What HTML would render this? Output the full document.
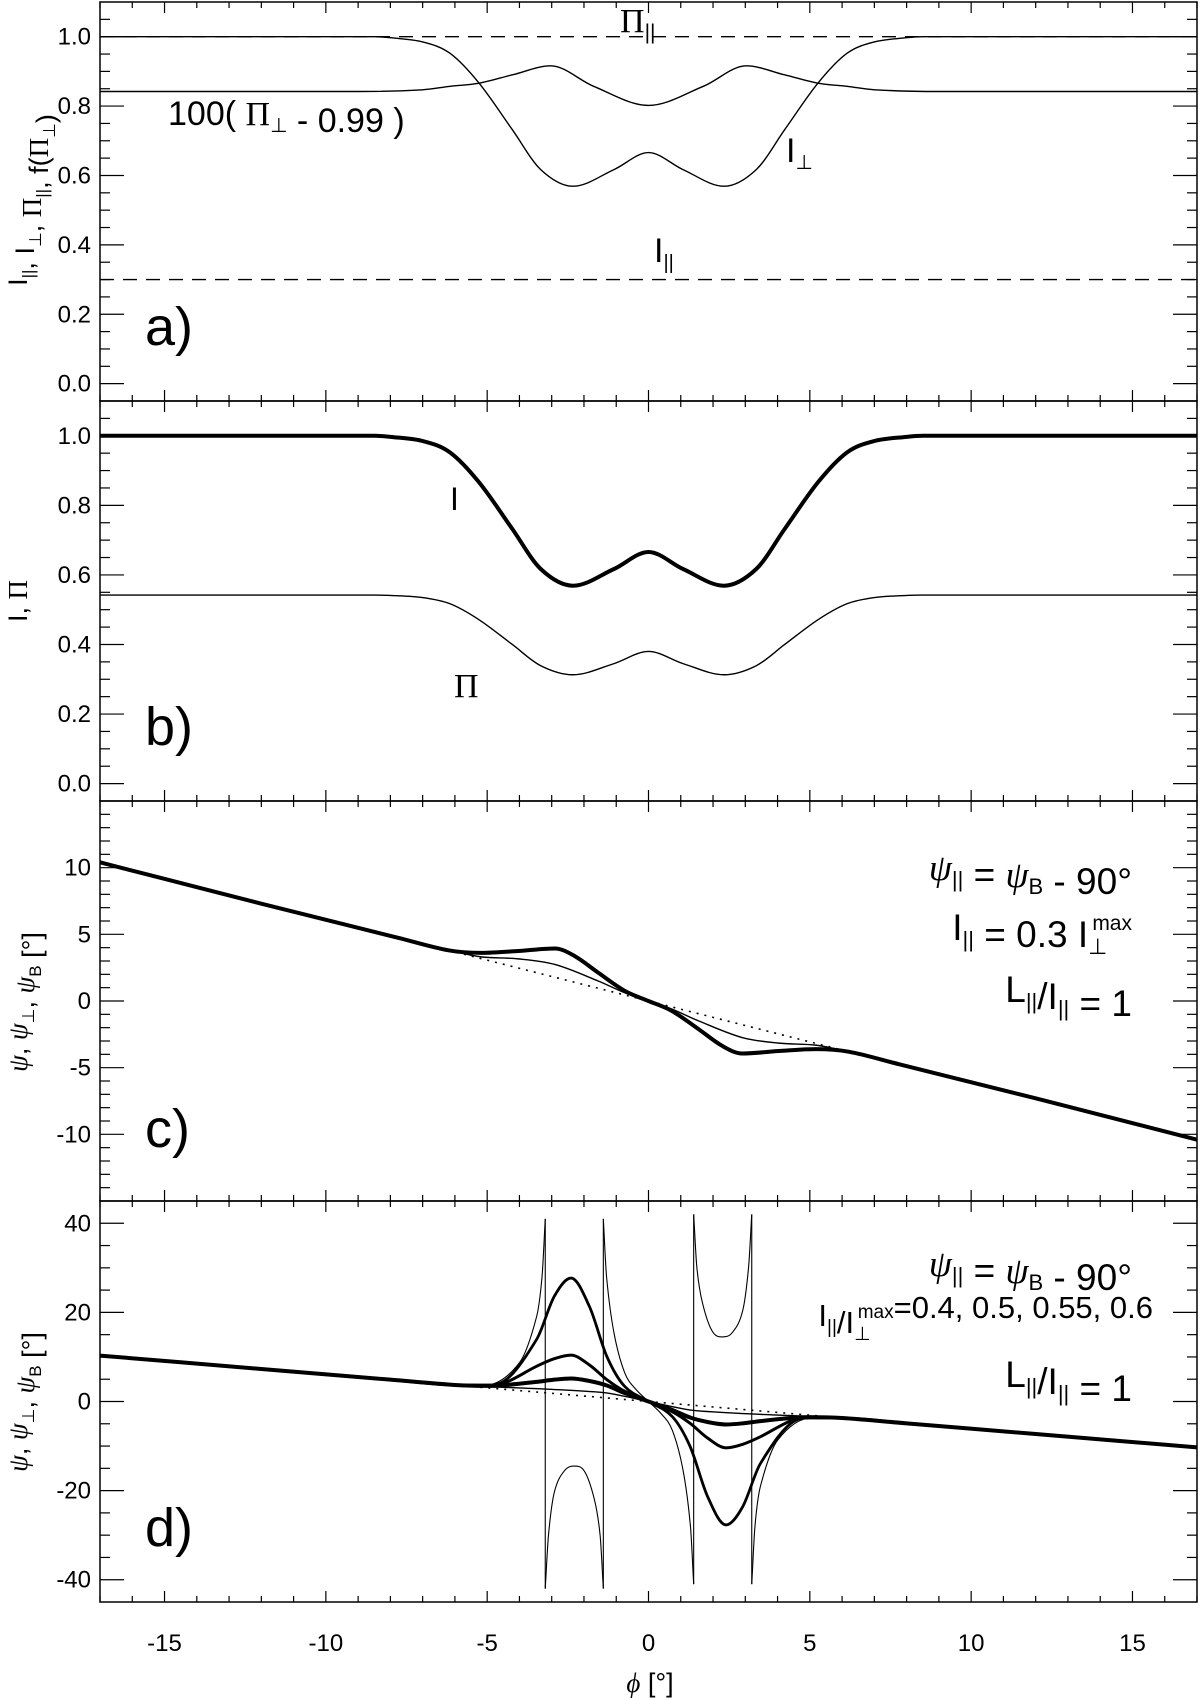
<!DOCTYPE html>
<html><head><meta charset="utf-8"><style>
html,body{margin:0;padding:0;background:#fff}
svg{display:block}
text{font-family:"Liberation Sans",sans-serif;fill:#000}
.serif{font-family:"Liberation Serif",serif}
</style></head><body>
<svg id="fig" width="1200" height="1699" viewBox="0 0 1200 1699" xmlns="http://www.w3.org/2000/svg"></svg>
<script>
// ---- data ----
const xTicks = [-15,-10,-5,0,5,10,15];
const aTicks = [1.0,0.8,0.6,0.4,0.2,0.0];
const bTicks = [1.0,0.8,0.6,0.4,0.2,0.0];
const cTicks = [10,5,0,-5,-10];
const dTicks = [40,20,0,-20,-40];

const phiA = [-17,-10,-8.5,-8,-7,-6.15,-5.25,-4.22,-3.34,-2.34,-1.07,0,1.07,2.34,3.34,4.22,5.25,6.15,7,8,8.5,10,17];
const Iperp = [1,1,1,0.997,0.985,0.952,0.866,0.732,0.617,0.569,0.617,0.666,0.617,0.569,0.617,0.732,0.866,0.952,0.985,0.997,1,1,1];
const phiF = [-17,-10,-9,-7,-6.15,-5.25,-4.22,-3.03,-1.7,0,1.7,3.03,4.22,5.25,6.15,7,9,10,17];
const fPiPerp = [0.842,0.842,0.842,0.847,0.857,0.866,0.890,0.916,0.857,0.802,0.857,0.916,0.890,0.866,0.857,0.847,0.842,0.842,0.842];
const PiPar = 1.0;
const IPar = 0.3;

const Itot = [1,1,1,0.997,0.985,0.952,0.866,0.732,0.617,0.569,0.617,0.666,0.617,0.569,0.617,0.732,0.866,0.952,0.985,0.997,1,1,1];
const Pol = [0.542,0.542,0.542,0.541,0.535,0.517,0.471,0.400,0.339,0.313,0.345,0.38,0.345,0.313,0.339,0.400,0.471,0.517,0.535,0.541,0.542,0.542,0.542];

const phiC = [-17,-12,-7.76,-6.2,-5.18,-4.04,-2.9,-2.28,-1.55,-0.72,0,0.72,1.55,2.28,2.9,4.04,5.18,6.2,7.76,12,17];
const psiC = [10.4,7.3,4.74,3.8,3.61,3.75,3.94,3.36,2.11,0.74,0,-0.74,-2.11,-3.36,-3.94,-3.75,-3.61,-3.8,-4.74,-7.3,-10.4];
const phiCt = [-6.2,-5.18,-4.04,-2.9,-1.55,-0.72,0,0.72,1.55,2.9,4.04,5.18,6.2];
const psiCt = [3.8,3.31,3.16,2.74,1.49,0.6,0,-0.6,-1.49,-2.74,-3.16,-3.31,-3.8];
const phiDot = [-6.2,6.2];
const psiDot = [3.8,-3.8];

const phiD = [-17,-12,-8,-6,-5,-4.57,-3.47,-2.92,-2.4,-1.83,-1.29,-0.74,0,0.74,1.29,1.83,2.4,2.92,3.47,4.57,5,6,8,12,17];
const psiD1 = [10.3,7.3,4.9,3.7,3.5,3.6,4.4,4.9,5.15,4.6,3.6,1.9,0,-1.9,-3.6,-4.6,-5.15,-4.9,-4.4,-3.6,-3.5,-3.7,-4.9,-7.3,-10.3];
const psiD2 = [10.3,7.3,4.9,3.7,3.6,3.9,7.9,9.6,10.4,8.2,4.9,2.3,0,-2.3,-4.9,-8.2,-10.4,-9.6,-7.9,-3.9,-3.6,-3.7,-4.9,-7.3,-10.3];
const psiD3 = [10.3,7.3,4.9,3.7,3.7,4.2,13.9,23.6,27.7,21.3,10.1,3.4,0,-3.4,-10.1,-21.3,-27.7,-23.6,-13.9,-4.2,-3.7,-3.7,-4.9,-7.3,-10.3];
const phiDt = [-6,-4.5,-3.2,-1.4,-0.7,0,0.7,1.4,3.2,4.5,6];
const psiDt = [3.7,3.2,2.8,2.0,1.1,0,-1.1,-2.0,-2.8,-3.2,-3.7];
const phiOutL = [-6,-5.1,-4.0,-3.47,-3.3,-3.2];
const psiOutL = [3.7,3.6,8.7,19,28,41];
const phiOutR = [3.2,3.3,3.47,4.0,5.1,6];
const psiOutR = [-41,-28,-19,-8.7,-3.6,-3.7];
const phiMidL = [-3.2,-3.1,-2.92,-2.6,-2.29,-2.0,-1.68,-1.5,-1.4];
const psiMidL = [-42,-30,-20.4,-15.5,-14.5,-15.5,-21.9,-30,-42];
const phiMidR = [1.4,1.5,1.68,2.0,2.29,2.6,2.92,3.1,3.2];
const psiMidR = [42,30,21.9,15.5,14.5,15.5,20.4,30,42];
const phiCen = [-1.4,-1.3,-1.07,-0.74,-0.4,0,0.4,0.74,1.07,1.3,1.4];
const psiCen = [41,28,15.4,6.5,2.8,0,-2.8,-6.5,-15.4,-28,-41];
const asym = [-3.2,-1.4,1.4,3.2];
const asymTop = [41,41,42,42];
const asymBot = [-42,-42,-41,-41];

// ---- layout ----
const NS="http://www.w3.org/2000/svg";
const svg=document.getElementById('fig');
const L=100,R=1197;
const X=p=>L+(p+17)*(R-L)/34;
const panels={
 a:{top:2,bot:401,min:-0.05,max:1.1},
 b:{top:401,bot:801,min:-0.05,max:1.1},
 c:{top:801,bot:1201,min:-15,max:15},
 d:{top:1201,bot:1602,min:-45,max:45}
};
function Y(k,v){const p=panels[k];return p.top+(p.max-v)*(p.bot-p.top)/(p.max-p.min);}
function el(tag,attrs,parent){const e=document.createElementNS(NS,tag);for(const a in attrs)e.setAttribute(a,attrs[a]);(parent||svg).appendChild(e);return e;}

function smoothPath(xs,ys){
 const n=xs.length;if(n<3){return 'M'+xs.map((x,i)=>x.toFixed(2)+','+ys[i].toFixed(2)).join('L');}
 const d=[],m=[];
 for(let i=0;i<n-1;i++)d.push((ys[i+1]-ys[i])/(xs[i+1]-xs[i]));
 m.push(d[0]);
 for(let i=1;i<n-1;i++){
  if(d[i-1]*d[i]<0||Math.abs(d[i-1])<1e-9||Math.abs(d[i])<1e-9)m.push(0);
  else{let t=(ys[i+1]-ys[i-1])/(xs[i+1]-xs[i-1]);
   const lim=3*Math.min(Math.abs(d[i-1]),Math.abs(d[i]));
   if(Math.abs(t)>lim)t=Math.sign(t)*lim; m.push(t);}
 }
 m.push(d[n-2]);
 let s='M'+xs[0].toFixed(2)+','+ys[0].toFixed(2);
 for(let i=0;i<n-1;i++){const h=xs[i+1]-xs[i];
  s+='C'+(xs[i]+h/3).toFixed(2)+','+(ys[i]+m[i]*h/3).toFixed(2)+' '+(xs[i+1]-h/3).toFixed(2)+','+(ys[i+1]-m[i+1]*h/3).toFixed(2)+' '+xs[i+1].toFixed(2)+','+ys[i+1].toFixed(2);}
 return s;
}
function curve(k,phis,vals,w,name,dash){
 const xs=phis.map(X),ys=vals.map(v=>Y(k,v));
 const a={d:smoothPath(xs,ys),fill:'none',stroke:'#000','stroke-width':w,'stroke-linejoin':'round'};
 if(dash)a['stroke-dasharray']=dash;
 const p=el('path',a);
 
 
 return p;
}

// ---- frames & ticks ----
const minorStep={a:0.05,b:0.05,c:1,d:5};
const allTicks={a:aTicks,b:bTicks,c:cTicks,d:dTicks};
for(const k in panels){
 const p=panels[k];
 const g=el('g',{});
 
 
 el('rect',{x:L,y:p.top,width:R-L,height:p.bot-p.top,fill:'none',stroke:'#000','stroke-width':1.5},g);
 for(let f=-17;f<=17;f++){
  const big=(f%5===0),len=big?11:6,x=X(f);
  el('line',{x1:x,y1:p.bot,x2:x,y2:p.bot-len,stroke:'#000','stroke-width':1.2},g);
  el('line',{x1:x,y1:p.top,x2:x,y2:p.top+len,stroke:'#000','stroke-width':1.2},g);
 }
 const st=minorStep[k];
 for(let v=Math.ceil(p.min/st-1e-6)*st; v<=p.max+1e-9; v+=st){
  const y=Y(k,v);
  if(Math.abs(y-p.top)<2||Math.abs(y-p.bot)<2)continue;
  const big=allTicks[k].some(t=>Math.abs(t-v)<1e-6),len=big?24:10;
  el('line',{x1:L,y1:y,x2:L+len,y2:y,stroke:'#000','stroke-width':1.2},g);
  el('line',{x1:R,y1:y,x2:R-len,y2:y,stroke:'#000','stroke-width':1.2},g);
 }
 allTicks[k].forEach(t=>{
  const tx=el('text',{x:91,y:Y(k,t)+8,'font-size':24,'text-anchor':'end'},g);
  tx.textContent=(k==='a'||k==='b')?t.toFixed(1):String(t);
  
  
 });
}
xTicks.forEach(t=>{
 const tx=el('text',{x:X(t),y:1651,'font-size':24,'text-anchor':'middle'});
 tx.textContent=String(t);
 
 
});

// ---- panel a ----
{const y=Y('a',PiPar);const l=el('line',{x1:L,y1:y,x2:R,y2:y,stroke:'#000','stroke-width':1.4,'stroke-dasharray':'14 9'});
  }
{const y=Y('a',IPar);const l=el('line',{x1:L,y1:y,x2:R,y2:y,stroke:'#000','stroke-width':1.4,'stroke-dasharray':'14 9'});
  }
curve('a',phiA,Iperp,1.4,'i-perp-curve');
curve('a',phiF,fPiPerp,1.4,'f-pi-perp-curve');
// ---- panel b ----
curve('b',phiA,Itot,4,'intensity-curve');
curve('b',phiA,Pol,1.4,'polarization-curve');
// ---- panel c ----
curve('c',phiDot,psiDot,1.6,'psi-b-dotted',"2 6");
curve('c',phiCt,psiCt,1.4,'psi-perp-curve');
curve('c',phiC,psiC,4,'psi-curve');
// ---- panel d ----
curve('d',phiDot,psiDot,1.6,'psi-b-dotted-d',"2 6");
curve('d',phiDt,psiDt,1.4,'psi-perp-curve-d');
curve('d',phiOutL,psiOutL,1.1,'psi-06-left-branch');
curve('d',phiOutR,psiOutR,1.1,'psi-06-right-branch');
curve('d',phiMidL,psiMidL,1.1,'psi-06-mid-left-branch');
curve('d',phiMidR,psiMidR,1.1,'psi-06-mid-right-branch');
curve('d',phiCen,psiCen,1.1,'psi-06-center-branch');
asym.forEach((a,i)=>{const l=el('line',{x1:X(a),y1:Y('d',asymTop[i]),x2:X(a),y2:Y('d',asymBot[i]),stroke:'#000','stroke-width':1.1});
  });
curve('d',phiD,psiD3,2.8,'psi-055-curve');
curve('d',phiD,psiD2,3,'psi-05-curve');
curve('d',phiD,psiD1,4,'psi-04-curve');

// ---- labels ----
function label(x,y,size,html,name,anchor,rot){
 const g=el('g',rot?{transform:'rotate(-90 '+x+' '+y+')'}:{});
 const t=el('text',{x:x,y:y,'font-size':size,'text-anchor':anchor||'start'},g);
 t.innerHTML=html;
 
 
 return t;
}
const sub=(s,sz)=>'<tspan dy="7" font-size="'+sz+'">'+s+'</tspan><tspan dy="-7"></tspan>';
label(620,32,34,'<tspan class="serif">Π</tspan>'+sub('||',21),'pi-parallel-label');
label(168,125,34,'100( <tspan class="serif">Π</tspan>'+sub('⊥',20)+' - 0.99 )','f-pi-perp-label');
label(786,162,34,'I'+sub('⊥',20),'i-perp-label');
label(654,262,34,'I'+sub('||',20),'i-parallel-label');
label(145,345,54,'a)','panel-a-label');
label(450,510,32,'I','intensity-label');
label(454,697,34,'<tspan class="serif">Π</tspan>','polarization-label');
label(145,745,54,'b)','panel-b-label');
label(145,1147,54,'c)','panel-c-label');
label(145,1546,54,'d)','panel-d-label');

label(1132,880,37,'<tspan class="serif" font-style="italic">ψ</tspan>'+sub('||',22)+' = <tspan class="serif" font-style="italic">ψ</tspan>'+sub('B',22)+' - 90°','c-annotation-psi','end');
label(1132,940,37,'I'+sub('||',22)+' = 0.3 I<tspan dy="7" font-size="22">⊥</tspan><tspan dx="-15" dy="-24" font-size="21">max</tspan><tspan dy="17"></tspan>','c-annotation-ratio','end');
label(1132,1002,37,'L'+sub('||',22)+'/I'+sub('||',22)+' = 1','c-annotation-l','end');
label(1132,1276,37,'<tspan class="serif" font-style="italic">ψ</tspan>'+sub('||',22)+' = <tspan class="serif" font-style="italic">ψ</tspan>'+sub('B',22)+' - 90°','d-annotation-psi','end');
label(1153,1326,31,'I'+sub('||',19)+'/I<tspan dy="7" font-size="19">⊥</tspan><tspan dx="-13" dy="-22" font-size="19">max</tspan><tspan dy="15"></tspan>=0.4, 0.5, 0.55, 0.6','d-annotation-ratio','end');
label(1132,1387,37,'L'+sub('||',22)+'/I'+sub('||',22)+' = 1','d-annotation-l','end');

label(27,200,27,'I'+sub('||',17)+', I'+sub('⊥',17)+', <tspan class="serif">Π</tspan>'+sub('||',17)+', f(<tspan class="serif">Π</tspan>'+sub('⊥',17)+')','y-axis-title-a','middle',true);
label(27,601,27,'I, <tspan class="serif">Π</tspan>','y-axis-title-b','middle',true);
label(27,1002,27,'<tspan class="serif" font-style="italic">ψ</tspan>, <tspan class="serif" font-style="italic">ψ</tspan>'+sub('⊥',17)+', <tspan class="serif" font-style="italic">ψ</tspan>'+sub('B',17)+' [°]','y-axis-title-c','middle',true);
label(27,1402,27,'<tspan class="serif" font-style="italic">ψ</tspan>, <tspan class="serif" font-style="italic">ψ</tspan>'+sub('⊥',17)+', <tspan class="serif" font-style="italic">ψ</tspan>'+sub('B',17)+' [°]','y-axis-title-d','middle',true);
label(650,1692,27,'<tspan class="serif" font-style="italic">ϕ</tspan> [°]','x-axis-title','middle');
</script>
</body></html>
